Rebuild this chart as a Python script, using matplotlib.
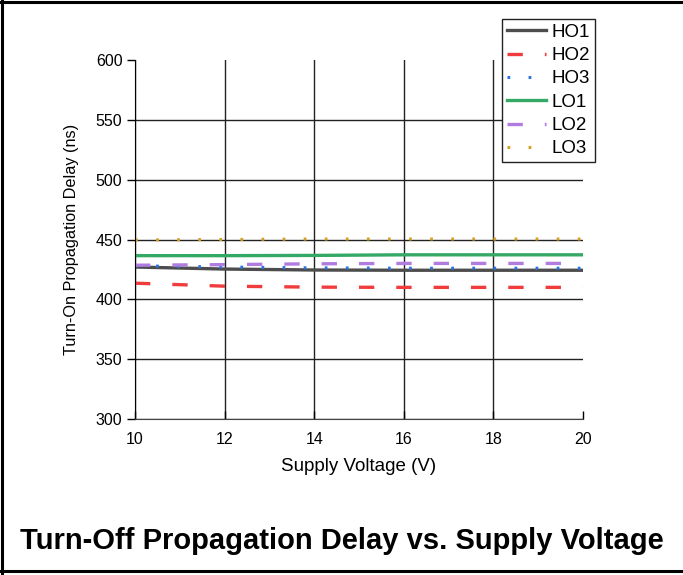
import matplotlib as mpl
mpl.use('Agg')
import matplotlib.pyplot as plt
from matplotlib.lines import Line2D

plt.rcParams['font.family'] = ['Liberation Sans', 'DejaVu Sans']

# Supply voltage (V)
voltage = [10, 12, 14, 16, 18, 20]

# Turn-off propagation delay (ns)
ho1 = [427.0, 425.3, 424.5, 424.3, 424.3, 424.3]
ho2 = [413.5, 411.0, 410.2, 410.0, 410.0, 410.0]
ho3 = [428.0, 427.0, 426.3, 426.0, 426.0, 426.0]
lo1 = [436.5, 436.5, 436.7, 437.2, 437.2, 437.2]
lo2 = [428.5, 429.0, 429.7, 430.0, 430.0, 430.0]
lo3 = [449.6, 450.0, 450.4, 450.4, 450.4, 450.4]

x_ticks = [10, 12, 14, 16, 18, 20]
y_ticks = [300, 350, 400, 450, 500, 550, 600]

fig = plt.figure(figsize=(6.83, 5.75), dpi=100)
ax = fig.add_axes([135 / 683, 1 - 419 / 575, (583 - 135) / 683, (419 - 60) / 575])

ax.plot(voltage, ho1, color='#4d4d4d', lw=2.4, label='HO1')
ax.plot(voltage, ho2, color='#f03c3c', lw=2.4, dashes=(4.6, 6.6), label='HO2')
ax.plot(voltage, ho3, color='#2a74e0', lw=2.2, dashes=(0.9, 6.0), label='HO3')
ax.plot(voltage, lo1, color='#34a865', lw=2.4, label='LO1')
ax.plot(voltage, lo2, color='#b07ce0', lw=2.4, dashes=(4.6, 6.6), label='LO2')
ax.plot(voltage, lo3, color='#d4a020', lw=2.2, dashes=(0.9, 6.0), label='LO3')

ax.set_xlim(10, 20)
ax.set_ylim(300, 600)
ax.set_xticks(x_ticks)
ax.set_yticks(y_ticks)
ax.tick_params(axis='x', direction='in', length=6, width=1, pad=9, labelsize=11.5)
ax.tick_params(axis='y', direction='out', length=6, width=1, pad=3, labelsize=11.5)

ax.grid(True, color='#222222', lw=1)
# no grid on the top and right edges
ax.xaxis.get_gridlines()[-1].set_visible(False)
ax.yaxis.get_gridlines()[-1].set_visible(False)
ax.set_axisbelow(True)

for side in ['top', 'right']:
    ax.spines[side].set_visible(False)
ax.spines['left'].set_color('black')
ax.spines['bottom'].set_color('#444444')

ax.set_xlabel('Supply Voltage (V)', fontsize=13.5, labelpad=8)
ax.set_ylabel('Turn-On Propagation Delay (ns)', fontsize=11.7, labelpad=12)

leg = fig.legend(loc='upper right', bbox_to_anchor=(595 / 683, 1 - 19 / 575),
                 fontsize=13.5, handlelength=2.1, handletextpad=0.3,
                 labelspacing=0.33, borderpad=0.25, borderaxespad=0,
                 fancybox=False, framealpha=1)
leg.get_frame().set_edgecolor('#222222')
leg.get_frame().set_linewidth(1)

fig.text(0.5, 1 - 541 / 575, 'Turn-Off Propagation Delay vs. Supply Voltage',
         ha='center', va='center', fontsize=21, fontweight='bold')

# frame round the figure: top, left and bottom only
for xs, ys in [([0, 1], [1 - 1.5 / 575] * 2),
               ([1.5 / 683] * 2, [0, 1]),
               ([0, 1], [1 - 571 / 575] * 2)]:
    fig.add_artist(Line2D(xs, ys, color='black', lw=2.2, transform=fig.transFigure))

fig.savefig('out.png', dpi=100)
